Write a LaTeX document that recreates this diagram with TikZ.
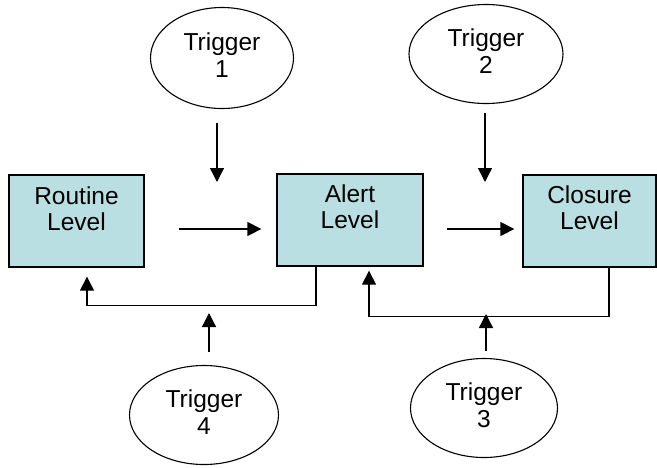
\documentclass[tikz,border=0pt]{standalone}
\usepackage{fontspec}
\setmainfont{Liberation Sans}
\usetikzlibrary{arrows.meta,shapes.geometric}
\definecolor{boxfill}{RGB}{186,223,227}
\newcommand{\lowpad}{\rule[-6pt]{0pt}{6pt}}
\begin{document}
\begin{tikzpicture}[x=1pt,y=-1pt,
  levelbox/.style={draw=black, fill=boxfill, line width=1.3pt, rectangle, inner sep=0pt},
  trig/.style={draw=black, ellipse, line width=1.1pt, inner sep=0pt, font=\fontsize{24.5}{27}\selectfont, align=center},
  lbl/.style={font=\fontsize{24.5}{26}\selectfont, align=center, inner sep=0pt},
  arr/.style={line width=1.3pt, -{Triangle[length=14pt,width=14pt]}},
  fb/.style={line width=1.2pt, -{Triangle[length=14pt,width=14pt]}}]
\useasboundingbox (0,0) rectangle (657,467);
% level boxes
\node[levelbox, minimum width=135pt, minimum height=92pt] (routine) at (76.5,221) {};
\node[levelbox, minimum width=146pt, minimum height=92pt] (alert) at (350,220) {};
\node[levelbox, minimum width=133pt, minimum height=92pt] (closure) at (589.5,221) {};
\node[lbl] (routinetxt) at ([yshift=12.5pt]routine.center) {Routine\\Level};
\node[lbl] (alerttxt) at ([yshift=13pt]alert.center) {Alert\\Level};
\node[lbl] (closuretxt) at ([yshift=13pt]closure.center) {Closure\\Level};
% triggers
\node[trig, minimum width=143pt, minimum height=101pt] (t1) at (222,58) {Trigger\\1\lowpad};
\node[trig, minimum width=154pt, minimum height=99pt] (t2) at (486,54) {Trigger\\2\lowpad};
\node[trig, minimum width=147pt, minimum height=99pt] (t3) at (484,408) {Trigger\\3\lowpad};
\node[trig, minimum width=149pt, minimum height=99pt] (t4) at (204,415) {Trigger\\4\lowpad};
% free ends of trigger arrows
\coordinate (t1end) at (217,182);
\coordinate (t2end) at (485,182);
\coordinate (t3end) at (486,314);
\coordinate (t4end) at (209,313);
% forward arrows
\draw[arr, shorten <=34pt, shorten >=15pt] ([yshift=-8pt]routine.east) -- ([yshift=-8pt]routine.east -| alert.west);
\draw[arr, shorten <=23pt, shorten >=8pt] ([yshift=-9pt]alert.east) -- ([yshift=-9pt]alert.east -| closure.west);
% trigger arrows
\draw[arr, shorten <=14pt] (t1end |- t1.south) -- (t1end);
\draw[arr, shorten <=9pt] (t2end |- t2.south) -- (t2end);
\draw[arr, shorten <=7pt] (t3end |- t3.north) -- (t3end);
\draw[arr, shorten <=13pt] (t4end |- t4.north) -- (t4end);
% feedback arrows
\draw[fb] ([xshift=-34pt]alert.south) -- ++(0,39) -| ([xshift=10.5pt,yshift=-9pt]routine.south);
\draw[fb] ([xshift=19.5pt]closure.south) -- ++(0,49) -| ([xshift=19pt,yshift=-4pt]alert.south);
\end{tikzpicture}
\end{document}
